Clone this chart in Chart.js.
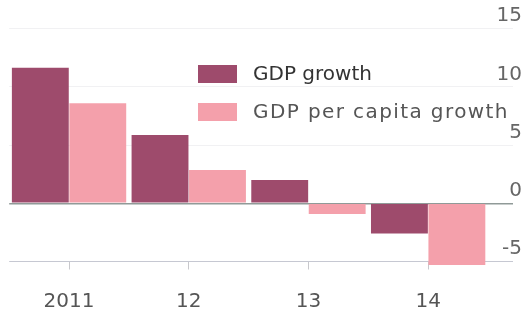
<!DOCTYPE html>
<html>
<head>
<meta charset="utf-8">
<script src="https://cdn.jsdelivr.net/npm/chart.js@4"></script>
<style>
  html, body { margin: 0; padding: 0; background: #ffffff; }
  canvas { display: block; }
</style>
</head>
<body>
<canvas id="c" width="522" height="314"></canvas>
<script>
const categories = ['2011', '12', '13', '14'];
const gdpGrowth = [11.65, 5.87, 2.0, -2.6];
const gdpPerCapitaGrowth = [8.6, 2.86, -0.92, -5.3];
const yTickValues = [-5, 0, 5, 10, 15];
const seriesLabels = ['GDP growth', 'GDP per capita growth'];
const seriesColors = ['#9e4b6c', '#f4a0ab'];

const FONT = '"DejaVu Sans", sans-serif';

const legendPlugin = {
  id: 'insideLegend',
  afterDatasetsDraw(chart) {
    const ctx = chart.ctx;
    ctx.save();
    const textColors = ['#333333', '#555555'];
    const spacing = ['0px', '1.4px'];
    chart.data.datasets.forEach((ds, i) => {
      const y = 65 + i * 38;
      ctx.fillStyle = ds.backgroundColor;
      ctx.fillRect(198, y, 39, 18);
      ctx.fillStyle = textColors[i];
      ctx.font = '20px ' + FONT;
      ctx.letterSpacing = spacing[i];
      ctx.textBaseline = 'middle';
      ctx.textAlign = 'left';
      ctx.fillText(ds.label, 253, y + 10);
    });
    ctx.restore();
  }
};

new Chart(document.getElementById('c'), {
  type: 'bar',
  data: {
    labels: categories,
    datasets: [
      { label: seriesLabels[0], data: gdpGrowth, backgroundColor: seriesColors[0], clip: false,
        categoryPercentage: 0.96, barPercentage: 0.99 },
      { label: seriesLabels[1], data: gdpPerCapitaGrowth, backgroundColor: seriesColors[1], clip: false,
        categoryPercentage: 0.96, barPercentage: 0.99 }
    ]
  },
  options: {
    responsive: false,
    animation: false,
    layout: { padding: { top: 28.7, left: 9.2, right: 0, bottom: 2.5 } },
    plugins: { legend: { display: false }, tooltip: { enabled: false } },
    scales: {
      x: {
        afterFit(scale) { scale.height = 50; },
        grid: { offset: false, drawOnChartArea: false, drawTicks: true, tickLength: 8, color: '#c8c8cc', lineWidth: 1 },
        border: { display: false },
        ticks: { color: '#555555', font: { family: FONT, size: 20, lineHeight: 1 }, padding: 22, maxRotation: 0 }
      },
      y: {
        position: 'right',
        min: -5,
        max: 15,
        afterBuildTicks(scale) { scale.ticks = yTickValues.map(v => ({ value: v })); },
        afterFit(scale) { scale.width = 34; },
        grid: {
          drawTicks: true,
          tickLength: 25,
          color: (c) => c.tick && c.tick.value === 0 ? '#909a98' : (c.tick && c.tick.value === -5 ? '#c6c8d2' : '#f1f1f3'),
          lineWidth: (c) => c.tick && c.tick.value === 0 ? 1.5 : 1
        },
        border: { display: false },
        ticks: {
          color: '#666666',
          font: { family: FONT, size: 20 },
          crossAlign: 'far',
          padding: -19.4,
          labelOffset: -12.5,
          callback: (v) => String(v)
        }
      }
    }
  },
  plugins: [legendPlugin]
});
</script>
</body>
</html>
